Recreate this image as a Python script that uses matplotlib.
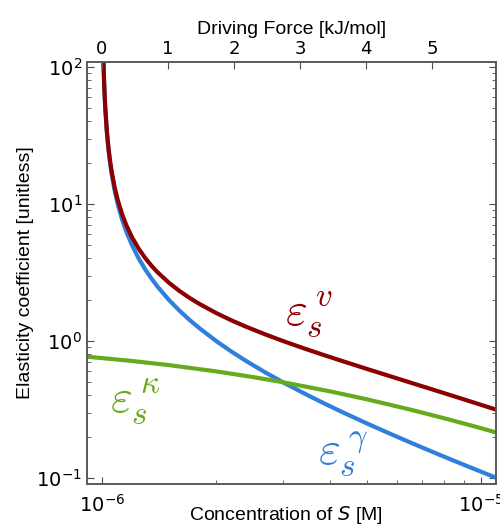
import matplotlib
matplotlib.use('Agg')
import matplotlib.pyplot as plt
import numpy as np

# concentration of S [uM] where the curves were read
conc_um = [1.009, 1.012, 1.015, 1.02, 1.03, 1.04, 1.05, 1.06, 1.08, 1.1, 1.13, 1.16,
           1.2, 1.25, 1.3, 1.35, 1.4, 1.5, 1.6, 1.7, 1.8, 2.0, 2.2, 2.4, 2.7, 3.0,
           3.4, 3.8, 4.3, 5.0, 5.7, 6.5, 7.5, 8.5, 9.5, 11.0]
eps_gamma = [111.1, 83.33, 66.67, 50.0, 33.33, 25.0, 20.0, 16.67, 12.5, 10.0, 7.692, 6.25,
             5.0, 4.0, 3.333, 2.857, 2.5, 2.0, 1.667, 1.429, 1.25, 1.0, 0.8333, 0.7143,
             0.5882, 0.5, 0.4167, 0.3571, 0.3030, 0.25, 0.2128, 0.1818, 0.1538, 0.1333,
             0.1176, 0.1]
eps_v = [111.9, 84.08, 67.41, 50.75, 34.08, 25.74, 20.74, 17.41, 13.24, 10.73, 8.419, 6.971,
         5.714, 4.706, 4.031, 3.547, 3.182, 2.667, 2.319, 2.067, 1.875, 1.6, 1.410, 1.270,
         1.115, 1.0, 0.8854, 0.7983, 0.7140, 0.625, 0.5576, 0.4976, 0.4395, 0.3942,
         0.3576, 0.3143]
conc_kappa_um = [0.9, 1.0, 1.2, 1.5, 2.0, 2.5, 3.0, 4.0, 5.0, 6.5, 8.0, 9.5, 11.0]
eps_kappa = [0.7692, 0.75, 0.7143, 0.6667, 0.6, 0.5455, 0.5, 0.4286, 0.375, 0.3158,
             0.2727, 0.24, 0.2143]

RT = 2.494  # kJ/mol
S0 = 1e-6   # concentration at zero driving force
xmin, xmax = 0.913e-6, 1.095e-5

fig = plt.figure(figsize=(5, 5.26), dpi=100)
ax = fig.add_axes([0.174, 0.080, 0.818, 0.802])

c_red = '#8b0000'
c_blue = '#2f7fdc'
c_green = '#68aa1e'

ax.plot(np.array(conc_um) * 1e-6, eps_gamma, color=c_blue, lw=3)
ax.plot(np.array(conc_kappa_um) * 1e-6, eps_kappa, color=c_green, lw=3)
ax.plot(np.array(conc_um) * 1e-6, eps_v, color=c_red, lw=3)

ax.set_xscale('log'); ax.set_yscale('log')
ax.set_xlim(xmin, xmax)
ax.set_ylim(0.0905, 108.5)

lab = dict(family='Liberation Sans', fontsize=14)
ax.set_ylabel('Elasticity coefficient [unitless]', labelpad=2, **lab)
ax.set_xlabel('Concentration of $S$ [M]', va='center', **lab)
ax.xaxis.set_label_coords(0.487, -0.074)
ax.tick_params(which='both', direction='in', right=True, labelsize=14, color='0.3')
ax.tick_params(which='major', length=5)
ax.tick_params(which='minor', length=3)
ax.tick_params(axis='x', pad=7)

# top axis: driving force, linear in log concentration
top = ax.twiny()
top.set_xlim(RT * np.log(xmin / S0), RT * np.log(xmax / S0))
top.set_xticks([0, 1, 2, 3, 4, 5])
top.tick_params(direction='in', length=5, labelsize=13, color='0.3', pad=3)
top.set_xlabel('Driving Force [kJ/mol]', labelpad=4, **lab)

for a in (ax, top):
    for sp in a.spines.values():
        sp.set_color('0.35')
        sp.set_linewidth(1.2)

mt = dict(fontsize=34, math_fontfamily='cm', transform=ax.transAxes,
          ha='left', va='baseline')
ax.text(0.485, 0.377, r'$\varepsilon_s^{\,v}$', color=c_red, **mt)
ax.text(0.056, 0.171, r'$\varepsilon_s^{\,\kappa}$', color=c_green, **mt)
ax.text(0.565, 0.045, r'$\varepsilon_s^{\,\gamma}$', color=c_blue, **mt)

plt.savefig('out.png', dpi=100)
